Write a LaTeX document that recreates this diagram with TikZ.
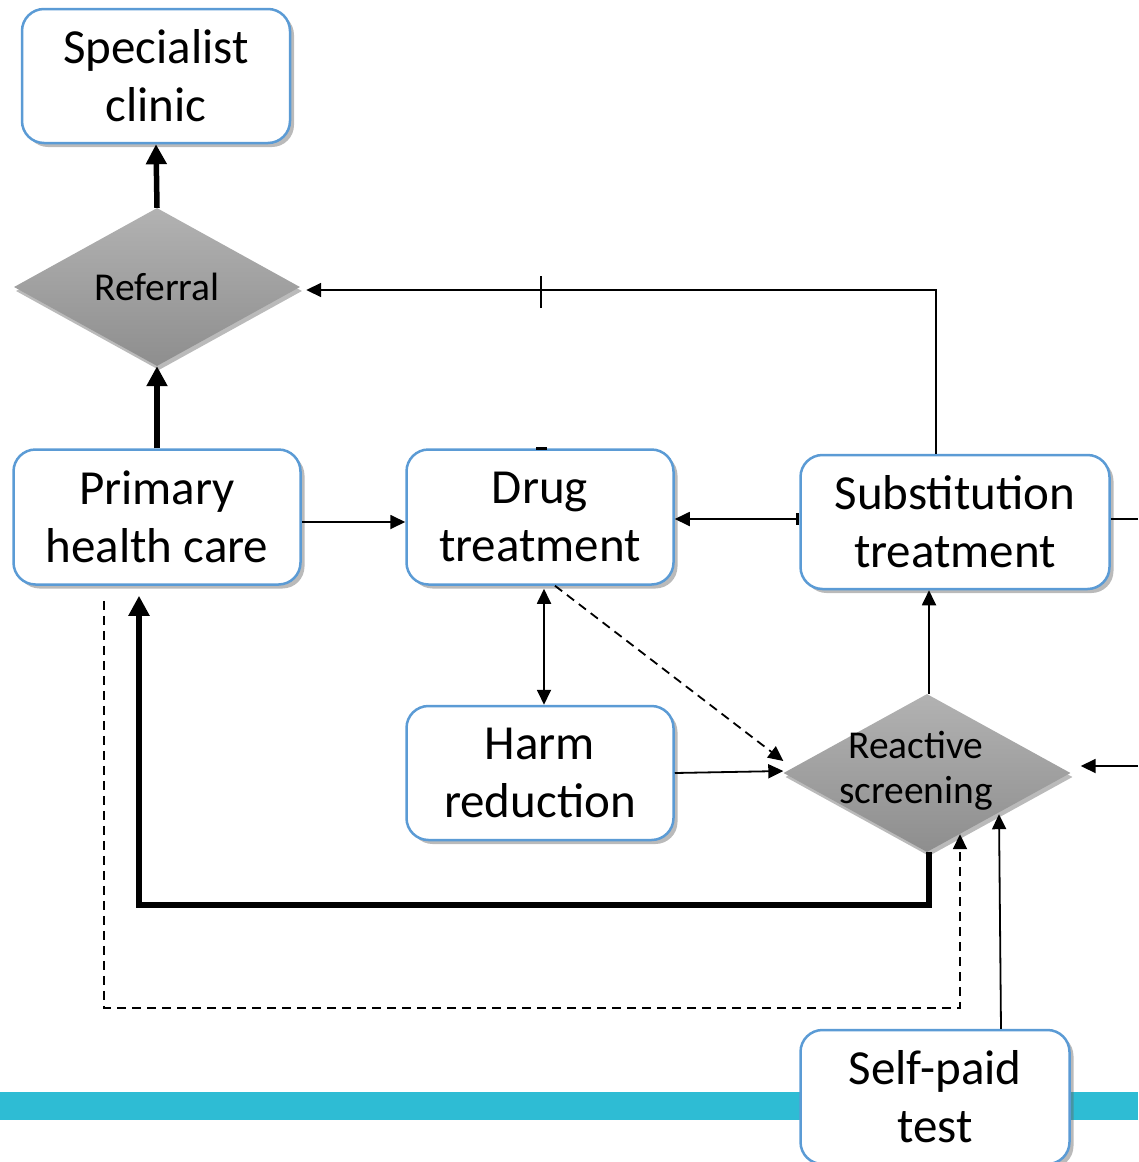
\documentclass[tikz,border=0pt]{standalone}
\usepackage{fontspec}
\setmainfont{Carlito}
\usetikzlibrary{arrows.meta,shapes.geometric,shadows}
\definecolor{boxblue}{RGB}{91,155,213}
\definecolor{teal}{RGB}{46,188,212}
\definecolor{dtop}{RGB}{178,178,178}
\definecolor{dbot}{RGB}{142,142,142}
\tikzset{
  box/.style={rectangle, rounded corners=22pt, draw=boxblue, line width=2.5pt, fill=white,
    align=center, inner sep=0pt, font=\fontsize{49}{58}\selectfont,
    drop shadow={shadow xshift=4pt, shadow yshift=-4pt, opacity=0.45, fill=black!60}},
  dia/.style={diamond, draw=none, top color=dtop, bottom color=dbot, align=center, inner sep=0pt,
    font=\fontsize{39.5}{45}\selectfont,
    drop shadow={shadow xshift=2pt, shadow yshift=-4pt, opacity=0.45, fill=black!60}},
  conn/.style={line width=1.8pt, -{Triangle[length=15pt,width=14pt]}},
  dconn/.style={conn, dash pattern=on 9pt off 6pt},
  heavy/.style={line width=5.5pt, -{Triangle[length=20pt,width=20pt]}},
}
\begin{document}
\begin{tikzpicture}[x=1pt,y=-1pt]
\useasboundingbox (0,0) rectangle (1138,1162);
% teal band
\fill[teal] (0,1092) rectangle (1138,1120);
% nodes
\node[box, minimum width=268pt, minimum height=134pt] (spec) at (156,76) {Specialist\\clinic};
\node[dia, minimum width=286pt, minimum height=158pt] (ref) at (157,287) {Referral};
\node[box, minimum width=287pt, minimum height=135pt] (prim) at (157,517) {Primary\\health care};
\node[box, minimum width=267pt, minimum height=135pt] (drug) at (540,517) {Drug\\treatment};
\node[box, minimum width=309pt, minimum height=134pt] (subst) at (955,522) {Substitution\\treatment};
\node[box, minimum width=267pt, minimum height=134pt] (harm) at (540,773) {Harm\\reduction};
\node[dia, minimum width=287pt, minimum height=158pt] (react) at (927,773) {};
\node[font=\fontsize{39.5}{45}\selectfont, align=center, inner sep=0pt] (reactlbl) at (916,771) {Reactive\\screening};
\node[box, minimum width=269pt, minimum height=134pt] (self) at (935,1097) {Self-paid\\test};
% free ends
\coordinate (rin) at (1138,766);
\coordinate (rout) at (1138,519);
\coordinate (tick) at (541,290);
% connectors
\draw[heavy] (ref.north) -- (spec.south);
\draw[heavy] (prim.north) -- (ref.south);
\draw[conn] ([xshift=-19pt]subst.north) |- ([xshift=6pt,yshift=-3pt]ref.east);
\draw[line width=1.8pt] ([yshift=-18pt]tick) -- ([yshift=14pt]tick);
\draw[conn] ([yshift=-5pt]prim.east) -- ([yshift=-5pt]drug.west);
\draw[line width=1.8pt, {Triangle[length=15pt,width=14pt]}-{Bar[width=12pt,line width=3pt]}] ([yshift=-2pt]drug.east) -- ([yshift=3pt]subst.west);
\draw[conn, {Triangle[length=15pt,width=14pt]}-{Triangle[length=15pt,width=14pt]}] ([xshift=4pt,yshift=-3pt]drug.south) -- ([xshift=4pt]harm.north);
\draw[dconn] ([xshift=15pt]drug.south) -- ([yshift=12pt]react.west);
\draw[conn] (harm.east) -- ([yshift=2pt]react.west);
\draw[conn] ([xshift=2pt]react.north) -- ([xshift=-26pt]subst.south);
\draw[heavy] ([xshift=2pt]react.south) -- ++(0,53) -| ([xshift=-18pt,yshift=-10pt]prim.south);
\draw[dconn] ([xshift=-53pt,yshift=-15pt]prim.south) -- ++(0,407) -| ([xshift=33pt,yshift=18pt]react.south);
\draw[conn] ([xshift=66pt]self.north) -- ([xshift=72pt,yshift=38pt]react.south);
\draw[conn] (rin) -- ([xshift=10pt,yshift=7pt]react.east);
\draw[line width=1.8pt] (subst.east |- rout) -- (rout);
\draw[line width=3pt] (536,448) -- (547,448);
\end{tikzpicture}
\end{document}
